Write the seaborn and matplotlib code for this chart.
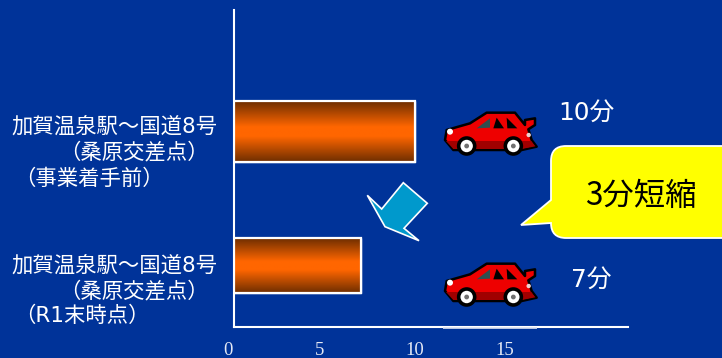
import numpy as np
import pandas as pd
import matplotlib
matplotlib.use("Agg")
import matplotlib.pyplot as plt
from matplotlib.patches import Circle, PathPatch, Polygon, Rectangle
from matplotlib.path import Path
from matplotlib.transforms import ScaledTranslation
from matplotlib.colors import LinearSegmentedColormap
import seaborn as sns

# Travel time on the Kaga Onsen station - Route 8 section
periods = ["事業着手前", "R1末時点"]
minutes = [10, 7]
route_name = "加賀温泉駅～国道8号"
junction = "（桑原交差点）"
period_labels = ["（事業着手前）", "（R1末時点）"]
minute_labels = ["10分", "7分"]
saving_label = "3分短縮"
tick_values = [0, 5, 10, 15]

NAVY = "#003399"
sns.set_theme(style="white")
plt.rcParams["font.family"] = ["Noto Sans CJK JP", "DejaVu Sans"]
LATIN_FIRST = ["DejaVu Sans", "Noto Sans CJK JP"]

W, H = 722, 358
fig = plt.figure(figsize=(W / 100, H / 100), dpi=100, facecolor=NAVY)
ax = fig.add_axes([234 / W, (H - 327) / H, (628 - 234) / W, (327 - 10) / H], facecolor=NAVY)

frame = pd.DataFrame({"period": periods, "minutes": minutes})
sns.barplot(data=frame, x="minutes", y="period", orient="h", ax=ax,
            color="#FF6600", width=0.43, saturation=1)

ax.set_xlim(0, 394 / 18.1)
ax.set_ylim(1.459, -0.907)

# Bars: vertical dark-orange-dark gradient, white outline
ramp = LinearSegmentedColormap.from_list(
    "bar", [(0, "#6E2E00"), (0.42, "#FF6600"), (0.58, "#FF6600"), (1, "#6E2E00")])
gradient = np.linspace(0, 1, 128).reshape(-1, 1)
thickness = [61 / 134, 55 / 134]
for i, bar in enumerate(ax.patches):
    bar.set_y(i - thickness[i] / 2)
    bar.set_height(thickness[i])
    x0, y0, w, h = bar.get_x(), bar.get_y(), bar.get_width(), bar.get_height()
    im = ax.imshow(gradient, cmap=ramp, aspect="auto", extent=(x0, x0 + w, y0 + h, y0), zorder=3)
    im.set_clip_path(bar)
    ax.add_patch(Rectangle((x0, y0), w, h, fill=False, edgecolor="white", lw=1.6, zorder=4))
ax.set_xlim(0, 394 / 18.1)
ax.set_ylim(1.459, -0.907)

# Axes
ax.set_xlabel("")
ax.set_ylabel("")
ax.set_yticks([0, 1])
ax.set_yticklabels([])
ax.tick_params(axis="y", length=0)
ax.set_xticks(tick_values)
ax.set_xticklabels([str(v) for v in tick_values], family="Liberation Serif",
                   fontsize=13.5, color="#E4E8F4")
ax.tick_params(axis="x", length=0, pad=11)
for label, dx in zip(ax.get_xticklabels(), [-6, -5, 0, -1]):
    label.set_transform(label.get_transform() + ScaledTranslation(dx / 100, 0, fig.dpi_scale_trans))
for side in ("top", "right"):
    ax.spines[side].set_visible(False)
for side in ("left", "bottom"):
    ax.spines[side].set_color("white")
    ax.spines[side].set_linewidth(1.5)

# Overlay in pixel units for annotations
ov = fig.add_axes([0, 0, 1, 1], facecolor="none")
ov.set_xlim(0, W)
ov.set_ylim(H, 0)
ov.axis("off")

for x, y, s in [(11, 126.5, route_name), (59, 152.5, junction), (14, 178.5, period_labels[0]),
                (11, 265, route_name), (59, 291, junction), (14, 316, period_labels[1])]:
    ov.text(x, y, s, color="white", fontsize=15.4, va="center", ha="left", family=LATIN_FIRST)

ov.text(558, 113, minute_labels[0], color="white", fontsize=17.8, va="center", ha="left", family=LATIN_FIRST)
ov.text(571, 280, minute_labels[1], color="white", fontsize=17.8, va="center", ha="left", family=LATIN_FIRST)

# Down arrow between the bars
arrow = [(367.3, 195.3), (381.7, 209), (403.3, 182.7), (427.3, 203.3),
         (404, 228.3), (419, 240.7), (385, 226.7)]
ov.add_patch(Polygon(arrow, closed=True, facecolor="#0099CC", edgecolor="white", lw=1.2))

# Speech balloon
r = 15
L, T, B, RGT = 551, 146, 238, 740
verts = [(L + r, T), (RGT, T), (RGT, B), (L + r, B), (L, B), (L, B - r), (L, 223), (521, 225),
         (L, 200), (L, T + r), (L, T), (L + r, T), (L + r, T)]
codes = [Path.MOVETO, Path.LINETO, Path.LINETO, Path.LINETO, Path.CURVE3, Path.CURVE3,
         Path.LINETO, Path.LINETO, Path.LINETO, Path.LINETO, Path.CURVE3, Path.CURVE3, Path.CLOSEPOLY]
ov.add_patch(PathPatch(Path(verts, codes), facecolor="#FFFF00", edgecolor="white", lw=1.3))
ov.text(585, 196, saving_label, color="black", fontsize=22.6, va="center", ha="left")


def draw_car(ox, oy):
    """Small red car; local coordinates are 3x pixels from (ox, oy)."""
    def pts(seq):
        return [(ox + a / 3, oy + b / 3) for a, b in seq]

    body = [(15, 105), (20, 75), (90, 55), (140, 23), (225, 23), (255, 60), (255, 45), (285, 40),
            (285, 60), (265, 73), (275, 105), (290, 125), (245, 135), (40, 135)]
    ov.add_patch(Polygon(pts(body), closed=True, facecolor="#EE0000", edgecolor="black",
                         lw=1.8, joinstyle="round"))
    ov.add_patch(Polygon(pts([(18, 108), (274, 108), (286, 124), (245, 132), (40, 132)]),
                         closed=True, facecolor="#A00000", edgecolor="none"))
    ov.add_patch(Polygon(pts([(110, 70), (150, 40), (150, 68)]), closed=True,
                         facecolor="#2F4F4F", edgecolor="none"))
    ov.add_patch(Polygon(pts([(160, 70), (170, 38), (192, 70)]), closed=True,
                         facecolor="black", edgecolor="none"))
    ov.add_patch(Polygon(pts([(202, 70), (200, 38), (232, 70)]), closed=True,
                         facecolor="black", edgecolor="none"))
    ov.add_patch(Circle((ox + 30 / 3, oy + 80 / 3), 3, facecolor="white", edgecolor="none"))
    ov.add_patch(Circle((ox + 266 / 3, oy + 90 / 3), 2.2, facecolor="#F0D0D0", edgecolor="none"))
    for cx in (80, 220):
        c = (ox + cx / 3, oy + 123 / 3)
        ov.add_patch(Circle(c, 9.8, facecolor="black", edgecolor="none"))
        ov.add_patch(Circle(c, 6.2, facecolor="white", edgecolor="none"))
        ov.add_patch(Circle(c, 2.4, facecolor="#707070", edgecolor="none"))


draw_car(440, 105)
draw_car(440, 256)
ov.plot([443, 537], [328.2, 328.2], color="#DCE3F2", lw=1.2, solid_capstyle="butt")

fig.savefig("out.png", dpi=100, facecolor=NAVY)
